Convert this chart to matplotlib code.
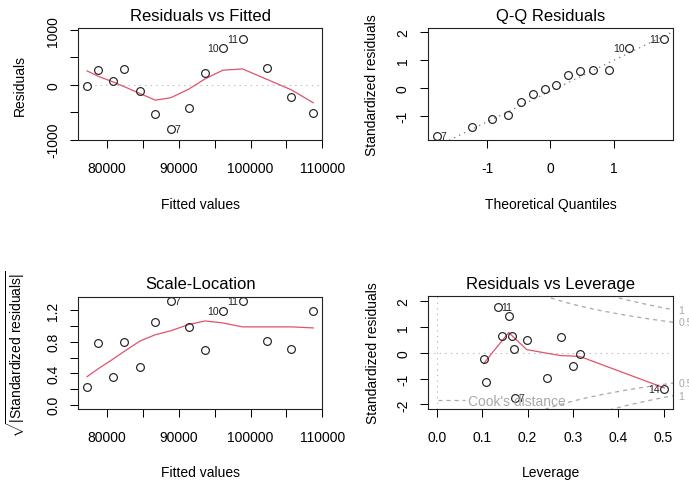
import numpy as np
import matplotlib
matplotlib.use("Agg")
import matplotlib.pyplot as plt
from matplotlib.lines import Line2D
from statistics import NormalDist

plt.rcParams['font.family'] = ['Liberation Sans', 'DejaVu Sans']
plt.rcParams['axes.unicode_minus'] = False
plt.rcParams['mathtext.fontset'] = 'custom'
plt.rcParams['mathtext.rm'] = 'Liberation Sans'
plt.rcParams['mathtext.it'] = 'Liberation Sans:italic'
plt.rcParams['lines.scale_dashes'] = False

# ---------------- data ----------------
obs_ids = np.arange(1, 15)
fitted = np.array([77200, 78700, 80800, 82340, 84570, 86710, 88860,
                   91370, 93660, 96130, 98880, 102240, 105690, 108740])
residuals = np.array([-24, 273, 62, 298, -109, -538, -805,
                      -429, 225, 680, 831, 309, -218, -509])
resid_smooth = np.array([255, 160, 55, -30, -158, -279, -236,
                         -79, 110, 267, 291, 103, -91, -327])
std_resid = np.array([-0.05, 0.62, 0.125, 0.635, -0.225, -1.12, -1.735,
                      -0.975, 0.48, 1.43, 1.75, 0.66, -0.505, -1.42])
scale_smooth = np.array([0.358, 0.455, 0.58, 0.676, 0.81, 0.89, 0.94,
                         1.02, 1.065, 1.04, 0.99, 0.99, 0.99, 0.977])
leverage = np.array([0.316, 0.273, 0.170, 0.143, 0.103, 0.108, 0.172,
                     0.242, 0.198, 0.158, 0.134, 0.166, 0.300, 0.5015])
lev_smooth = np.array([-0.15, -0.11, 0.58, 0.45, -0.42, -0.31, 0.55,
                       -0.02, 0.12, 0.78, 0.26, 0.65, -0.13, -1.36])
n_params = 3
cook_levels = [0.5, 1.0]
n_id = 3

# ---------------- styling ----------------
W, H = 689, 481
RED = '#DF536B'
GRAY = '#BEBEBE'
COOK = '#A8A8A8'
FS = 10
FS_ID = 7.5

fig = plt.figure(figsize=(W / 100, H / 100), dpi=100)


def px_axes(l, t, r, b):
    return fig.add_axes([l / W, 1 - b / H, (r - l) / W, (b - t) / H])


def rlim(lo, hi):
    d = hi - lo
    return lo - 0.04 * d, hi + 0.04 * d


def style(ax, xt, xl, yt, yl, xlabel, ylabel, title, ylab_dx, box_w, box_h):
    ax.set_xticks(xt)
    ax.set_xticklabels(xl)
    ax.set_yticks(yt)
    ax.set_yticklabels(yl)
    ax.tick_params(direction='out', length=5.5, width=0.75, labelsize=FS,
                   color='black')
    ax.tick_params(axis='x', pad=9.6)
    ax.tick_params(axis='y', pad=7.2, labelrotation=90)
    for lab in ax.get_yticklabels():
        lab.set_va('center')
    for s in ax.spines.values():
        s.set_linewidth(0.8)
        s.set_color('#222222')
    ax.set_title(title, fontsize=12, pad=6)
    ax.set_xlabel(xlabel, fontsize=FS)
    ax.set_ylabel(ylabel, fontsize=FS)
    ax.xaxis.set_label_coords(0.5, -56.5 / box_h)
    ax.yaxis.set_label_coords(ylab_dx / box_w, 0.5)


def pts(ax, x, y):
    ax.plot(x, y, 'o', mfc='none', mec='#222222', ms=5.6, mew=0.85, zorder=3)


def label_ids(ax, x, y, ids, show):
    mid = (x.min() + x.max()) / 2
    for i in show:
        right = x[i] <= mid
        ax.annotate(str(ids[i]), (x[i], y[i]), xytext=(2.8 if right else -2.8, 0),
                    textcoords='offset points', ha='left' if right else 'right',
                    va='center', fontsize=FS_ID, color='#222222',
                    annotation_clip=False, zorder=4)


# ---------------- panel 1: Residuals vs Fitted ----------------
ax1 = px_axes(78, 29, 322.3, 141.3)
bw1, bh1 = 244.3, 112.3
yl = (residuals.min(), residuals.max())
d = yl[1] - yl[0]
ax1.set_xlim(*rlim(fitted.min(), fitted.max()))
ax1.set_ylim(*rlim(yl[0] - 0.08 * d, yl[1] + 0.08 * d))
ax1.axhline(0, color=GRAY, lw=0.8, ls=(0, (1, 3)), zorder=1)
pts(ax1, fitted, residuals)
ax1.plot(fitted, resid_smooth, color=RED, lw=0.9, zorder=2)
show1 = np.argsort(-np.abs(residuals))[:n_id]
label_ids(ax1, fitted, residuals, obs_ids, show1)
xt = np.arange(80000, 110001, 5000)
xtl = [str(v) if v % 10000 == 0 else '' for v in xt]
style(ax1, xt, xtl, [-1000, -500, 0, 500, 1000], ['-1000', '', '0', '', '1000'],
      'Fitted values', 'Residuals', 'Residuals vs Fitted', -51, bw1, bh1)

# ---------------- panel 2: Q-Q Residuals ----------------
ax2 = px_axes(427.5, 29, 673.3, 141.3)
bw2, bh2 = 245.8, 112.3
n = len(std_resid)
nd = NormalDist()
theo_sorted = np.array([nd.inv_cdf((i - 0.5) / n) for i in range(1, n + 1)])
order = np.argsort(std_resid)
theo = np.empty(n)
theo[order] = theo_sorted
ax2.set_xlim(*rlim(theo.min(), theo.max()))
ylo, yhi = std_resid.min(), std_resid.max()
ax2.set_ylim(*rlim(ylo, yhi + 0.075 * (yhi - ylo)))
q1, q3 = np.quantile(std_resid, [0.25, 0.75])
ax2.axline((nd.inv_cdf(0.25), q1), (nd.inv_cdf(0.75), q3), color='#7F7F7F',
           lw=0.9, ls=(0, (1, 3)), zorder=1)
pts(ax2, theo, std_resid)
show2 = np.argsort(-np.abs(std_resid))[:n_id]
label_ids(ax2, theo, std_resid, obs_ids, show2)
style(ax2, [-1, 0, 1], ['-1', '0', '1'], [-1, 0, 1, 2], ['-1', '0', '1', '2'],
      'Theoretical Quantiles', 'Standardized residuals', 'Q-Q Residuals',
      -48, bw2, bh2)

# ---------------- panel 3: Scale-Location ----------------
ax3 = px_axes(78, 297.5, 322.3, 410)
bw3, bh3 = 244.3, 112.5
sqrt_abs = np.sqrt(np.abs(std_resid))
ax3.set_xlim(*rlim(fitted.min(), fitted.max()))
ax3.set_ylim(*rlim(0, sqrt_abs.max()))
pts(ax3, fitted, sqrt_abs)
ax3.plot(fitted, scale_smooth, color=RED, lw=0.9, zorder=2)
label_ids(ax3, fitted, sqrt_abs, obs_ids, show2)
yt3 = [0.0, 0.2, 0.4, 0.6, 0.8, 1.0, 1.2]
ytl3 = ['0.0', '', '0.4', '', '0.8', '', '1.2']
style(ax3, xt, xtl, yt3, ytl3, 'Fitted values',
      r'$\sqrt{|\mathrm{Standardized\ residuals}|}$', 'Scale-Location',
      -51, bw3, bh3)

# ---------------- panel 4: Residuals vs Leverage ----------------
ax4 = px_axes(428, 297, 673.3, 410)
bw4, bh4 = 245.3, 113
ax4.set_xlim(*rlim(0, leverage.max()))
ylo, yhi = std_resid.min(), std_resid.max()
d = yhi - ylo
ax4.set_ylim(*rlim(ylo - 0.08 * d, yhi + 0.08 * d))
ax4.axhline(0, color=GRAY, lw=0.8, ls=(0, (1, 3)), zorder=1)
ax4.axvline(0, color=GRAY, lw=0.8, ls=(0, (1, 3)), zorder=1)
pts(ax4, leverage, std_resid)
lo = np.argsort(leverage)
ax4.plot(leverage[lo], lev_smooth[lo], color=RED, lw=0.9, zorder=2)
xmax = ax4.get_xlim()[1]
srt = np.sort(leverage)
hh = np.linspace(min(srt[0], srt[1] / 100), xmax, 101)
for c in cook_levels:
    cl = np.sqrt(c * n_params * (1 - hh) / hh)
    ax4.plot(hh, cl, color=COOK, lw=0.9, ls=(0, (2.9, 2.9)), zorder=1)
    ax4.plot(hh, -cl, color=COOK, lw=0.9, ls=(0, (2.9, 2.9)), zorder=1)
ymult = np.sqrt(n_params * (1 - xmax) / xmax)
for c in cook_levels:
    for sgn in (1, -1):
        ax4.annotate('%g' % c, (1, sgn * np.sqrt(c) * ymult),
                     xycoords=('axes fraction', 'data'), xytext=(3.6, 0),
                     textcoords='offset points', ha='left', va='center',
                     fontsize=FS_ID, color=COOK, annotation_clip=False)
cooks_d = std_resid ** 2 * leverage / (n_params * (1 - leverage))
show4 = np.argsort(-cooks_d)[:n_id]
label_ids(ax4, leverage, std_resid, obs_ids, show4)
handle = Line2D([], [], color=COOK, lw=0.9, ls=(0, (2.9, 2.9)))
leg = ax4.legend([handle], ["Cook's distance"], loc='center left',
                 bbox_to_anchor=(10 / bw4, 8.3 / bh4), frameon=False,
                 borderpad=0, borderaxespad=0, handlelength=1.92,
                 handletextpad=0.24, fontsize=FS, labelcolor=COOK)
leg.set_zorder(5)
style(ax4, [0, 0.1, 0.2, 0.3, 0.4, 0.5], ['0.0', '0.1', '0.2', '0.3', '0.4', '0.5'],
      [-2, -1, 0, 1, 2], ['-2', '-1', '0', '1', '2'], 'Leverage',
      'Standardized residuals', 'Residuals vs Leverage', -48, bw4, bh4)

fig.savefig('out.png', dpi=100)
